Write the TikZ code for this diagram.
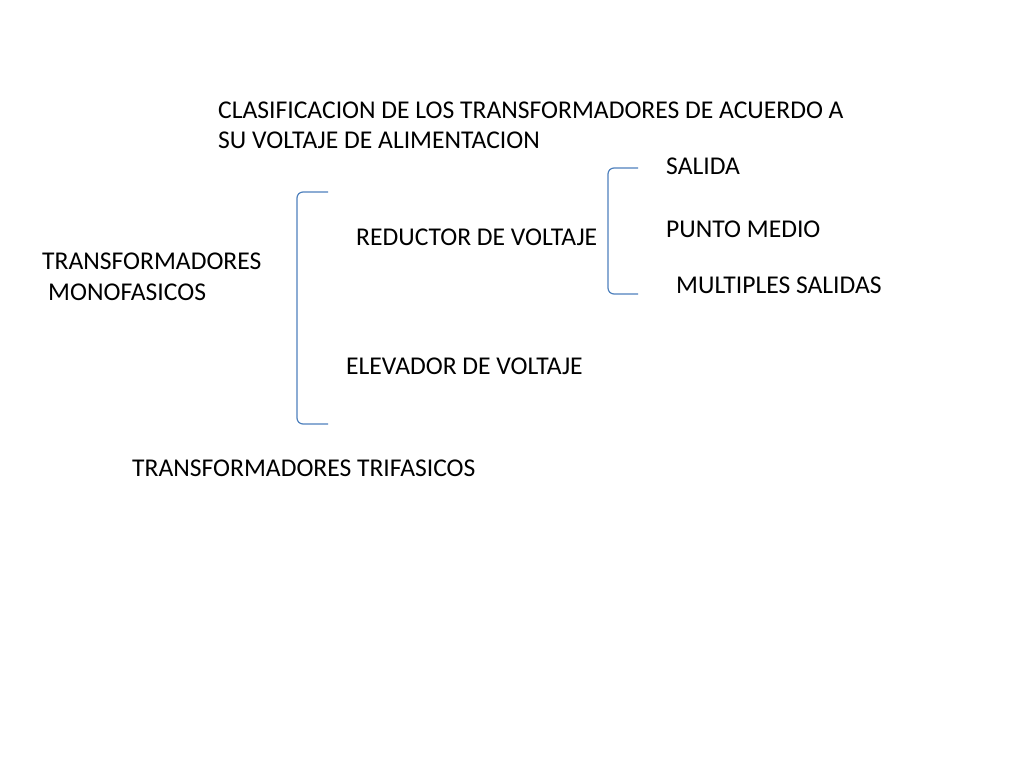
\documentclass[tikz,border=0pt]{standalone}
\usepackage{fontspec}
\setmainfont{Carlito}
\definecolor{brk}{RGB}{79,129,189}
\begin{document}
\begin{tikzpicture}[x=1pt,y=-1pt,
    every node/.style={anchor=west,inner sep=0pt,font=\fontsize{25.6}{30}\selectfont},
    bracket/.style={draw=brk,line width=1.2pt,rounded corners=6pt}]
\useasboundingbox[fill=white] (0,0) rectangle (1024,768);

\node (title) at (218,110) {CLASIFICACION DE LOS TRANSFORMADORES DE ACUERDO A};
\node (title2) at (218,140) {SU VOLTAJE DE ALIMENTACION};
\node (mono) at (42,261) {TRANSFORMADORES};
\node (mono2) at (48,292) {MONOFASICOS};
\node (red) at (356,237) {REDUCTOR DE VOLTAJE};
\node (ele) at (346,366) {ELEVADOR DE VOLTAJE};
\node (sal) at (666,166) {SALIDA};
\node (pm) at (666,229) {PUNTO MEDIO};
\node (ms) at (676,285) {MULTIPLES SALIDAS};
\node (tri) at (132,468) {TRANSFORMADORES TRIFASICOS};

% Brackets
\coordinate (b1t) at (328,192);
\coordinate (b1b) at (328,424);
\coordinate (b2t) at (638,168);
\coordinate (b2b) at (638,294);
\draw[bracket] (b1t) -- (297,192) -- (297,424) -- (b1b);
\draw[bracket] (b2t) -- (608,168) -- (608,294) -- (b2b);
\end{tikzpicture}
\end{document}
